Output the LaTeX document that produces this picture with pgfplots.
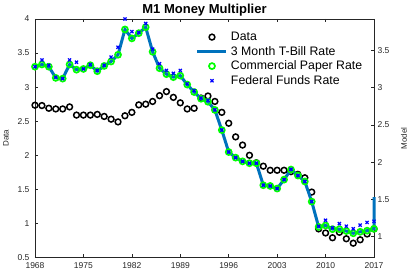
\documentclass[border=0pt]{standalone}
\usepackage{pgfplots}
\usepackage{pgfplotstable}
\pgfplotsset{compat=1.18}
\usepackage{fontspec}
\setmainfont{Liberation Sans}
\definecolor{tbill}{rgb}{0,0.447,0.741}
\definecolor{axgray}{rgb}{0.15,0.15,0.15}

\pgfplotstableread{
year v
1968 2.735
1969 2.73
1970 2.69
1971 2.68
1972 2.68
1973 2.71
1974 2.59
1975 2.59
1976 2.59
1977 2.60
1978 2.57
1979 2.53
1980 2.49
1981 2.58
1982 2.63
1983 2.74
1984 2.75
1985 2.79
1986 2.875
1987 2.935
1988 2.85
1989 2.77
1990 2.68
1991 2.69
1992 2.84
1993 2.87
1994 2.79
1995 2.63
1996 2.47
1997 2.27
1998 2.15
1999 2.00
2000 1.89
2001 1.84
2002 1.78
2003 1.78
2004 1.78
2005 1.76
2006 1.72
2007 1.67
2008 1.46
2009 0.92
2010 0.86
2011 0.79
2012 0.87
2013 0.775
2014 0.71
2015 0.76
2016 0.845
2017 0.92
}\datatab

\pgfplotstableread{
year cp ff
1968 3.28 3.28
1969 3.31 3.37
1970 3.28 3.30
1971 3.13 3.14
1972 3.12 3.12
1973 3.31 3.37
1974 3.24 3.34
1975 3.25 3.25
1976 3.30 3.31
1977 3.22 3.23
1978 3.29 3.30
1979 3.35 3.41
1980 3.44 3.54
1981 3.78 3.92
1982 3.66 3.75
1983 3.73 3.74
1984 3.81 3.86
1985 3.48 3.515
1986 3.26 3.32
1987 3.18 3.23
1988 3.14 3.19
1989 3.16 3.23
1990 3.04 3.05
1991 2.94 2.96
1992 2.85 2.86
1993 2.81 2.83
1994 2.70 2.70
1995 2.43 2.43
1996 2.135 2.135
1997 2.06 2.06
1998 2.01 2.01
1999 1.985 1.985
2000 1.985 1.985
2001 1.69 1.69
2002 1.68 1.68
2003 1.645 1.645
2004 1.765 1.765
2005 1.90 1.905
2006 1.82 1.82
2007 1.74 1.74
2008 1.47 1.47
2009 1.13 1.14
2010 1.15 1.22
2011 1.10 1.12
2012 1.10 1.175
2013 1.075 1.14
2014 1.045 1.105
2015 1.065 1.155
2016 1.08 1.19
2017 1.105 1.205
}\modeltab

\pgfplotstableread{
year v
1968 3.28
1969 3.31
1970 3.28
1971 3.13
1972 3.12
1973 3.31
1974 3.24
1975 3.25
1976 3.30
1977 3.22
1978 3.29
1979 3.35
1980 3.44
1981 3.78
1982 3.66
1983 3.73
1984 3.81
1985 3.48
1986 3.26
1987 3.18
1988 3.14
1989 3.16
1990 3.04
1991 2.94
1992 2.85
1993 2.81
1994 2.70
1995 2.43
1996 2.135
1997 2.06
1998 2.01
1999 1.985
2000 1.985
2001 1.69
2002 1.68
2003 1.645
2004 1.765
2005 1.90
2006 1.82
2007 1.74
2008 1.47
2009 1.13
2010 1.15
2011 1.10
2012 1.10
2013 1.075
2014 1.045
2015 1.065
2016 1.08
2017 1.105
2017 1.53
}\tbilltab

\pgfplotsset{
  mystyle/.style={
    scale only axis, width=339pt, height=238.5pt,
    xmin=1968, xmax=2017,
    tick align=inside,
    major tick length=3.3pt,
    axis line style={axgray, line width=0.5pt},
    tick style={axgray, line width=0.5pt},
    ticklabel style={font=\fontsize{8.5}{10}\selectfont, text=axgray},
    /pgf/number format/assume math mode=true,
    clip=false,
  }
}

\begin{document}
\begin{tikzpicture}
\begin{axis}[
  mystyle,
  ymin=0.5, ymax=4,
  xtick={1968,1975,1982,1989,1996,2003,2010,2017},
  ytick={0.5,1,1.5,2,2.5,3,3.5,4},
  xtick pos=both, ytick pos=left,
  x tick label style={/pgf/number format/1000 sep={}, yshift=-2pt},
  y tick label style={xshift=-2pt},
  ylabel={Data},
  ylabel style={at={(rel axis cs:-0.0855,0.5)}, anchor=center, font=\fontsize{8}{9}\selectfont, text=axgray},
  title={M1 Money Multiplier},
  title style={font=\bfseries\fontsize{13}{15}\selectfont, at={(rel axis cs:0.5,1)}, anchor=base, yshift=-0.5pt},
]
\addplot[only marks, mark=o, black, mark size=2.9pt, line width=1.5pt] table[x=year, y=v]{\datatab};
\end{axis}
\begin{axis}[
  mystyle,
  ymin=0.72, ymax=3.92,
  axis y line*=right, axis x line=none,
  ytick={1,1.5,2,2.5,3,3.5},
  ylabel={Model},
  ylabel style={at={(rel axis cs:1.0885,0.5)}, anchor=center, font=\fontsize{8}{9}\selectfont, text=axgray},
  legend style={at={(rel axis cs:0.4749,0.945)}, anchor=north west, draw=none, fill=none,
    inner sep=0pt, outer sep=0pt, row sep=4.2pt,
    font=\fontsize{12.3}{14}\selectfont, text=black, nodes={inner sep=0pt},
    /tikz/every odd column/.style={column sep=3pt}},
  legend cell align=left,
  legend image code/.code={\draw[mark repeat=2,mark phase=2,#1] plot coordinates {(0pt,0pt) (14.5pt,0pt) (29pt,0pt)};},
]
\addlegendimage{only marks, mark=o, black, mark size=2.9pt, line width=1.5pt}
\addlegendentry{Data}
\addplot[tbill, line width=3pt, mark=none] table[x=year, y=v]{\tbilltab};
\addlegendentry{3 Month T-Bill Rate}
\addplot[only marks, mark=o, color=green, mark size=3pt, line width=1.7pt] table[x=year, y=cp]{\modeltab};
\addlegendentry{Commercial Paper Rate}
\addplot[only marks, mark=x, color=blue, mark size=2.2pt, line width=1.2pt] table[x=year, y=ff]{\modeltab};
\addlegendentry{Federal Funds Rate}
\end{axis}
\pgfresetboundingbox
\useasboundingbox (-35pt,-15.5pt) rectangle (374pt,257.5pt);
\end{tikzpicture}
\end{document}
